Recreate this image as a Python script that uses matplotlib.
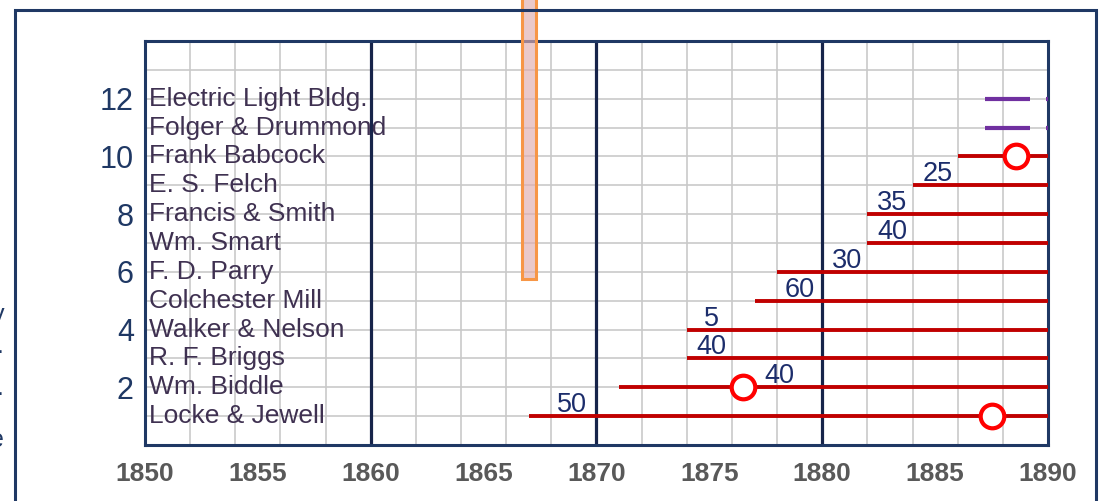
import matplotlib.pyplot as plt
from matplotlib.patches import Rectangle

plt.rcParams['font.family'] = ['Liberation Sans', 'DejaVu Sans']

# firms, one per row (bottom to top)
names = ['Locke & Jewell', 'Wm. Biddle', 'R. F. Briggs', 'Walker & Nelson',
         'Colchester Mill', 'F. D. Parry', 'Wm. Smart', 'Francis & Smith',
         'E. S. Felch', 'Frank Babcock', 'Folger & Drummond', 'Electric Light Bldg.']
rows = list(range(1, 13))

# red bars: start year for rows 1..10, all run to 1890
starts = [1867, 1871, 1874, 1874, 1877, 1878, 1882, 1882, 1884, 1886]
end_year = 1890
values = ['50', '40', '40', '5', '60', '30', '40', '35', '25', '']
value_x = [1868.9, 1878.1, 1875.1, 1875.1, 1879.0, 1881.1, 1883.1, 1883.1, 1885.1, 0]

# open circles (year, row)
circ_years = [1887.5, 1876.5, 1888.6]
circ_rows = [1, 2, 10]

# purple segments for rows 11 and 12
purple_rows = [11, 12]
purple_start = [1887.2, 1887.2]
purple_end = [1889.2, 1889.2]

# orange marker bar
bar_year = 1867
bar_bottom = 5.76

fig = plt.figure(figsize=(11.05, 5.01), dpi=100)
ax = fig.add_axes([0.1312, 0.1118, 0.8172, 0.8064])

navy = '#1f3864'
ax.set_xlim(1850, 1890)
ax.set_ylim(0, 14)

# grid
for x in range(1850, 1891, 2):
    ax.axvline(x, color='#c9c9c9', lw=1.2, zorder=0)
for y in range(0, 15):
    ax.axhline(y, color='#c9c9c9', lw=1.2, zorder=0)
for x in [1860, 1870, 1880]:
    ax.axvline(x, color='#17244a', lw=2.3, zorder=1)

for s in ax.spines.values():
    s.set_color(navy)
    s.set_linewidth(2.2)

ax.set_xticks(range(1850, 1891, 5))
ax.set_xticklabels([str(v) for v in range(1850, 1891, 5)], fontsize=19,
                   fontweight='bold', color='#595959')
ax.set_yticks(range(2, 13, 2))
ax.set_yticklabels([str(v) for v in range(2, 13, 2)], fontsize=22, color=navy)
ax.tick_params(axis='x', length=0, pad=12)
ax.tick_params(axis='y', length=0, pad=8)

for n, r in zip(names, rows):
    ax.text(1850.2, r, n, fontsize=19, color='#3f3151', va='center', ha='left', zorder=3)

for s, r, v, vx in zip(starts, rows, values, value_x):
    ax.plot([s, end_year], [r, r], color='#c00000', lw=2.8, solid_capstyle='butt', zorder=4)
    if v:
        ax.text(vx, r + 0.38, v, fontsize=19.5, color='#1c2d6b', ha='center', va='center', zorder=5)

ax.plot(circ_years, circ_rows, 'o', ms=17, mfc='white', mec='#ff0000', mew=3, zorder=6)

for r, a, b in zip(purple_rows, purple_start, purple_end):
    ax.plot([a, b], [r, r], color='#7030a0', lw=3, solid_capstyle='butt', zorder=4)
    ax.plot([1889.9, 1891], [r, r], color='#7030a0', lw=3, solid_capstyle='butt', zorder=4)

ax.bar(bar_year, 12, bottom=bar_bottom, width=0.6, facecolor=(0.88, 0.68, 0.68, 0.65),
       edgecolor='#f79646', linewidth=2.2, clip_on=False, zorder=7)

# outer frame
fig.patches.append(Rectangle((15 / 1105, -0.1), (1096 - 15) / 1105, 1.1 - 10 / 501,
                             transform=fig.transFigure, fill=False, edgecolor=navy,
                             lw=2.2, zorder=0))

# clipped text fragments on the left edge
for ch, yy in zip(['y', '.', '.', 'e'], [315, 346, 388, 440]):
    fig.text(4 / 1105, 1 - yy / 501, ch, fontsize=18, color=navy, ha='right', va='center')

fig.savefig('out.png', dpi=100)
